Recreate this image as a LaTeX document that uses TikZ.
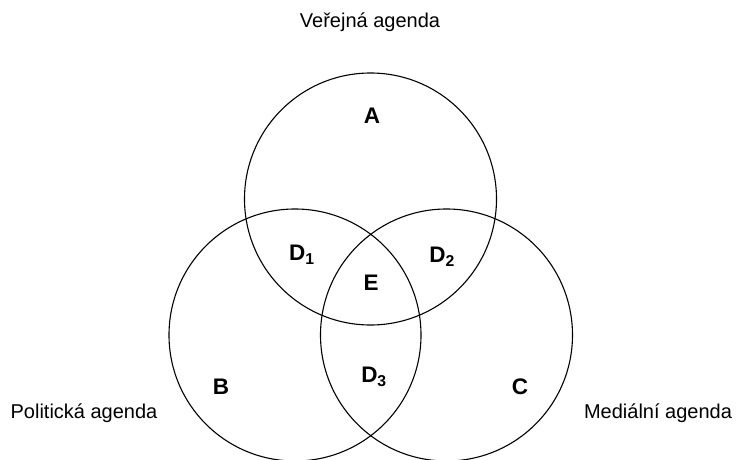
\documentclass[tikz,border=0pt]{standalone}
\usepackage{fontspec}
\setmainfont{Liberation Sans}
\begin{document}
\begin{tikzpicture}[x=1pt,y=1pt,
    ring/.style={line width=1.1pt},
    part/.style={font=\fontsize{22.5}{26}\selectfont\bfseries},
    agenda/.style={font=\fontsize{20}{23}\selectfont}]
    \useasboundingbox (0,0) rectangle (736,459);
    \coordinate (verejna) at (370.5,260);
    \coordinate (politicka) at (295,124);
    \coordinate (medialni) at (446.5,124);
    \draw[ring] (verejna) circle (126);
    \draw[ring] (politicka) circle (126);
    \draw[ring] (medialni) circle (126);
    \node[part] (a) at (372,343) {A};
    \node[part] (b) at (221,72) {B};
    \node[part] (c) at (520,72) {C};
    \node[part] (d1) at (302,204) {D$_{\mathbf 1}$};
    \node[part] (d2) at (442,202) {D$_{\mathbf 2}$};
    \node[part] (d3) at (374,82) {D$_{\mathbf 3}$};
    \node[part] (e) at (371,176) {E};
    \node[agenda] (verejnaText) at (370,437) {Veřejná agenda};
    \node[agenda] (politickaText) at (84,46) {Politická agenda};
    \node[agenda] (medialniText) at (658,46) {Mediální agenda};
\end{tikzpicture}
\end{document}
